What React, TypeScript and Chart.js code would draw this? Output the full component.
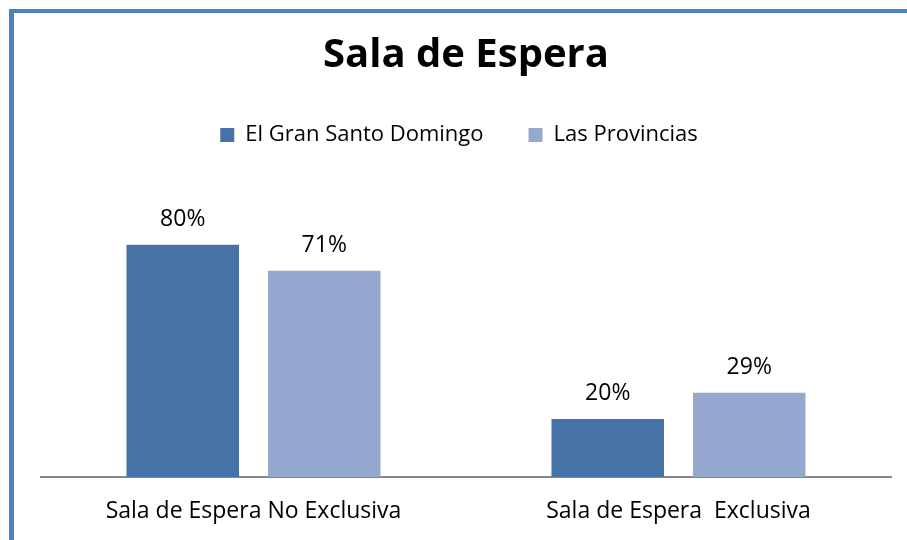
import React, { useEffect, useRef } from "react";
import { Chart, registerables } from "chart.js";

Chart.register(...registerables);

const categories = ["Sala de Espera No Exclusiva", "Sala de Espera  Exclusiva"];
const granSantoDomingo = [80, 20];
const lasProvincias = [71, 29];
const seriesNames = ["El Gran Santo Domingo", "Las Provincias"];
const chartTitle = "Sala de Espera";
const valueAxisMax = 111.6;

const FONT = "'Open Sans', sans-serif";

const dataLabels = {
  id: "dataLabels",
  afterDatasetsDraw(chart: any) {
    const ctx = chart.ctx;
    ctx.save();
    ctx.font = `23px ${FONT}`;
    ctx.fillStyle = "#000";
    ctx.textAlign = "center";
    ctx.textBaseline = "alphabetic";
    chart.data.datasets.forEach((ds: any, i: number) => {
      const meta = chart.getDatasetMeta(i);
      meta.data.forEach((bar: any, j: number) => {
        ctx.fillText(`${ds.data[j]}%`, bar.x, bar.y - 19);
      });
    });
    ctx.restore();
  },
};

const legendNudge = {
  id: "legendNudge",
  afterLayout(chart: any) {
    const lg = chart.legend;
    if (!lg) return;
    lg.left -= 7;
    lg.right -= 7;
    lg.top += 3;
    lg.bottom += 3;
  },
};

export default function App() {
  const ref = useRef<HTMLCanvasElement>(null);
  useEffect(() => {
    document.body.style.margin = "0";
    const chart = new Chart(ref.current!, {
      type: "bar",
      data: {
        labels: categories,
        datasets: [
          {
            label: seriesNames[0],
            data: granSantoDomingo,
            backgroundColor: "#4672A8",
            borderWidth: 0,
          },
          {
            label: seriesNames[1],
            data: lasProvincias,
            backgroundColor: "#95A9D0",
            borderWidth: 0,
          },
        ],
      },
      options: {
        animation: false,
        responsive: false,
        maintainAspectRatio: false,
        layout: { padding: { left: 41, right: 16, top: 12, bottom: 0 } },
        datasets: { bar: { categoryPercentage: 0.666, barPercentage: 0.795 } },
        scales: {
          x: {
            grid: { display: false, drawTicks: false },
            border: { display: true, color: "#868686", width: 2 },
            ticks: { color: "#000", font: { family: FONT, size: 23 }, padding: 21 },
            afterFit: (scale: any) => {
              scale.height = 63;
            },
          },
          y: { display: false, min: 0, max: valueAxisMax },
        },
        plugins: {
          title: {
            display: true,
            text: chartTitle,
            color: "#000",
            font: { family: FONT, size: 40, weight: "bold" },
            padding: { top: 20, bottom: -4 },
          },
          legend: {
            display: true,
            labels: {
              color: "#000",
              font: { family: FONT, size: 22 },
              boxWidth: 14,
              boxHeight: 14,
              padding: 45,
            },
          },
          tooltip: { enabled: false },
        },
      },
      plugins: [dataLabels, legendNudge],
    });
    return () => chart.destroy();
  }, []);
  return (
    <div style={{ position: "relative", width: 907, height: 540, background: "#fff", overflow: "hidden" }}>
      <div style={{ position: "absolute", left: 9, top: 9, width: 898, height: 4, background: "#4F81BD" }} />
      <div style={{ position: "absolute", left: 9, top: 9, width: 5, height: 531, background: "#4F81BD" }} />
      <canvas ref={ref} width={907} height={540} style={{ position: "absolute", left: 0, top: 0 }} />
    </div>
  );
}
